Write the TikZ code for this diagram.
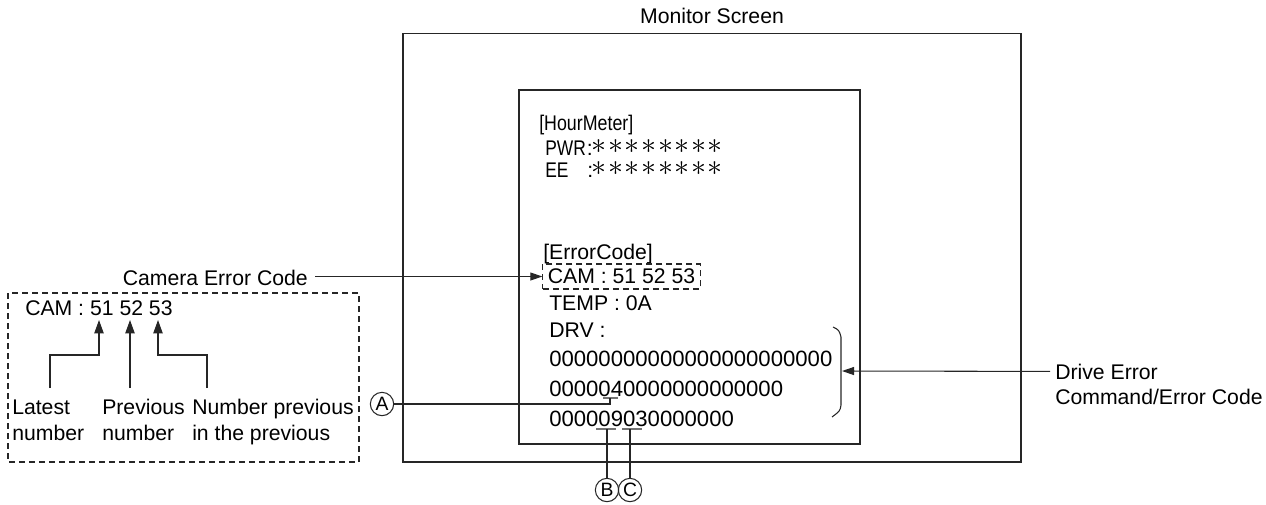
\documentclass[tikz,border=0pt]{standalone}
\usepackage{fontspec}
\setmainfont{Liberation Sans}
\usepackage{graphicx}
\usetikzlibrary{arrows.meta}
\newcommand\onestar{\makebox[12.45pt]{\raisebox{0.9pt}{\scalebox{1.3}{$\ast$}}}}
\newcommand\starrow{\onestar\onestar\onestar\onestar\onestar\onestar\onestar\onestar}
\begin{document}
\begin{tikzpicture}[x=0.75pt,y=-0.75pt,
  lbl/.style={inner sep=0, anchor=base west, font=\fontsize{15.9}{19}\selectfont},
  digits/.style={lbl, font=\fontsize{16.6}{19}\selectfont},
  box/.style={draw=black!85, line width=1.1pt},
  conn/.style={draw=black!85, line width=0.8pt},
  arr/.style={conn, -{Triangle[length=9pt,width=6pt]}},
  uparr/.style={conn, -{Triangle[length=10pt,width=7pt]}},
  bar/.style={draw=black!55, line width=1.4pt},
  circ/.style={circle, draw=black!85, line width=0.8pt, minimum size=17.5pt, inner sep=0, font=\fontsize{14.5}{14.5}\selectfont},
  dashbox/.style={draw=black!85, line width=0.8pt, dash pattern=on 4.5pt off 3pt}]
\useasboundingbox (0,0) rectangle (1266,504);

% title and boxes
\node[lbl, anchor=base] (title) at (712,23) {Monitor Screen};
\draw[box] (403,33.5) rectangle (1021,462);
\draw[box] (519,90) rectangle (860,444);

% hour meter
\node[lbl] (hm) at (539,130) {\scalebox{0.84}[1]{[HourMeter]}};
\node[lbl] (pwr) at (545,155) {\scalebox{0.82}[1]{PWR}};
\node[lbl] (pwrc) at (586.5,155) {:};
\node[lbl] (pwrs) at (590.7,155) {\starrow};
\node[lbl] (ee) at (545,177) {\scalebox{0.82}[1]{EE}};
\node[lbl] (eec) at (587,177) {:};
\node[lbl] (ees) at (590.7,177) {\starrow};

% error code
\node[lbl] (ec) at (543,259) {[ErrorCode]};
\node[dashbox, inner sep=0, inner xsep=3.75pt, minimum height=18.75pt,
      font=\fontsize{15.9}{19}\selectfont] (camin) at (621.5,276.5) {CAM : 51 52 53};
\node[lbl] (temp) at (549,310) {TEMP : 0A};
\node[lbl] (drv) at (549,337) {DRV :};
\node[digits] (r1) at (549,366) {00000000000000000000000};
\node[digits] (r2) at (549,396) {0000040000000000000};
\node[digits] (r3) at (549,426) {000009030000000};

% bracket
\draw[conn] (833,327) .. controls (839,330) .. (841,337) -- (841,405) .. controls (840,411) .. (832,417);
\coordinate (brk) at (842,371);

% drive error label
\node[lbl] (drv1) at (1055,379) {Drive Error};
\node[lbl] (drv2) at (1055,404) {Command/Error Code};
\draw[arr] (drv1.west) ++(-3.75pt,0) -- (brk);

% camera error code label
\node[lbl, anchor=base east] (cec) at (308,285) {Camera Error Code};
\draw[arr] (cec.east |- camin.west) ++(5.25pt,0) -- (camin.west);

% left explanation box
\draw[dashbox] (8,293) rectangle (359,462);
\node[lbl] (lcam) at (25,315) {CAM : 51 52 53};
\coordinate (t1) at (99,320);
\coordinate (t2) at (130,320);
\coordinate (t3) at (158,320);
\node[lbl] (l1a) at (12,414) {Latest};
\node[lbl] (l1b) at (12,440) {number};
\node[lbl] (l2a) at (102,414) {Previous};
\node[lbl] (l2b) at (102,440) {number};
\node[lbl] (l3a) at (192,414) {Number previous};
\node[lbl] (l3b) at (192,440) {in the previous};
\draw[uparr] (50,388) -- (50,355) -| (t1);
\draw[uparr] (130,388) -- (t2);
\draw[uparr] (207,388) -- (207,355) -| (t3);

% callout A
\node[circ] (A) at (382,404) {A};
\coordinate (a4) at (610,398);
\draw[bar] (603,398) -- (618,398);
\draw[conn] (A.east) -- (610,404) -- (a4);

% callouts B and C
\node[circ] (B) at (607,490) {B};
\node[circ] (C) at (630,490) {C};
\coordinate (b9) at (607,429);
\coordinate (c3) at (630,429);
\draw[bar] (596,429) -- (616,429);
\draw[bar] (622,429) -- (642,429);
\draw[conn] (B.north) -- (b9);
\draw[conn] (C.north) -- (c3);
\end{tikzpicture}
\end{document}
